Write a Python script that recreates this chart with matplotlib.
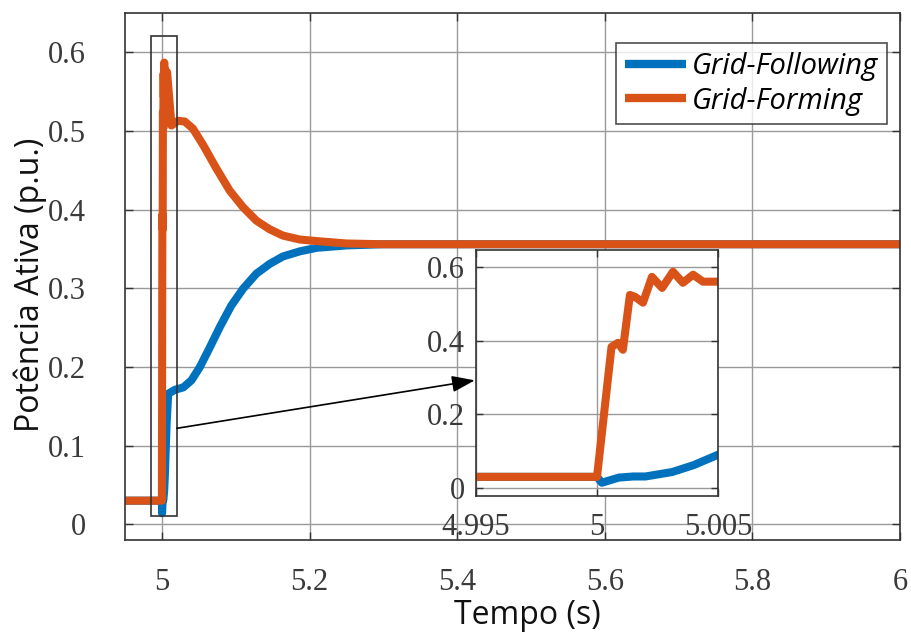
import matplotlib
matplotlib.use("Agg")
import matplotlib.pyplot as plt
from matplotlib.patches import Rectangle

# ---- data ----
t_forming = [4.95, 4.995, 5.0, 5.0006, 5.00087, 5.00107, 5.00136, 5.00157, 5.0019,
             5.00227, 5.00269, 5.00314, 5.00355, 5.00397, 5.00438, 5.005, 5.007,
             5.013, 5.022, 5.031, 5.042, 5.056, 5.074, 5.092, 5.110, 5.128, 5.146,
             5.164, 5.187, 5.210, 5.250, 5.3, 6.0]
p_forming = [0.03, 0.03, 0.03, 0.383, 0.394, 0.375, 0.524, 0.519, 0.503,
             0.573, 0.543, 0.587, 0.557, 0.579, 0.56, 0.56, 0.575,
             0.507, 0.513, 0.512, 0.503, 0.482, 0.452, 0.424, 0.403, 0.386, 0.375,
             0.367, 0.362, 0.360, 0.357, 0.356, 0.356]

t_following = [4.95, 4.995, 5.0, 5.0002, 5.0009, 5.0015, 5.002, 5.0031, 5.004, 5.005,
               5.0065, 5.0086, 5.0176, 5.029, 5.040, 5.0515, 5.065, 5.0786, 5.094,
               5.110, 5.128, 5.146, 5.164, 5.187, 5.210, 5.250, 5.3, 6.0]
p_following = [0.03, 0.03, 0.03, 0.014, 0.028, 0.031, 0.031, 0.043, 0.062, 0.09,
               0.13, 0.166, 0.171, 0.174, 0.183, 0.200, 0.225, 0.251, 0.278,
               0.2995, 0.3186, 0.331, 0.3405, 0.347, 0.3515, 0.3545, 0.356, 0.356]

labels = ["Grid-Following", "Grid-Forming"]
main_xticks = [5, 5.2, 5.4, 5.6, 5.8, 6]
main_xticklabels = ["5", "5.2", "5.4", "5.6", "5.8", "6"]
main_yticks = [0, 0.1, 0.2, 0.3, 0.4, 0.5, 0.6]
main_yticklabels = ["0", "0.1", "0.2", "0.3", "0.4", "0.5", "0.6"]
inset_xticks = [4.995, 5.0, 5.005]
inset_xticklabels = ["4.995", "5", "5.005"]
inset_yticks = [0, 0.2, 0.4, 0.6]
inset_yticklabels = ["0", "0.2", "0.4", "0.6"]

BLUE = "#0072BD"
ORANGE = "#D95319"
GRID = "#9a9a9a"
TICKC = "#3a3a3a"
serif = ["Liberation Serif", "DejaVu Serif"]
LW = 5.8

fig = plt.figure(figsize=(9.12, 6.37), dpi=100)
ax = fig.add_axes([125/912, 1-540/637, 775/912, 527/637])

ax.plot(t_following, p_following, color=BLUE, lw=LW, label=labels[0],
        solid_joinstyle="round", solid_capstyle="butt")
ax.plot(t_forming, p_forming, color=ORANGE, lw=LW, label=labels[1],
        solid_joinstyle="round", solid_capstyle="butt")
ax.set_xlim(4.95, 6.0)
ax.set_ylim(-0.02, 0.65)
ax.set_xticks(main_xticks)
ax.set_xticklabels(main_xticklabels, fontfamily=serif, fontsize=22, color=TICKC)
ax.set_yticks(main_yticks)
ax.set_yticklabels(main_yticklabels, fontfamily=serif, fontsize=22, color=TICKC)
ax.tick_params(axis="x", direction="in", length=6, width=1, top=True, pad=20, colors="#333333", labelcolor=TICKC)
ax.tick_params(axis="y", direction="in", length=6, width=1, right=True, pad=28, colors="#333333", labelcolor=TICKC)
ax.grid(True, color=GRID, lw=1)
ax.set_axisbelow(True)
for s in ax.spines.values():
    s.set_color("#333333")
    s.set_linewidth(1.2)

leg = ax.legend(loc="upper right", bbox_to_anchor=(887/912, 1-43/637), bbox_transform=fig.transFigure,
                prop={"family": "Open Sans", "style": "italic", "size": 21},
                frameon=True, fancybox=False, edgecolor="#222222", handlelength=2.1,
                handletextpad=0.2, borderpad=0.3, labelspacing=0.2, borderaxespad=0)
leg.get_frame().set_linewidth(1.2)
for h in leg.get_lines():
    h.set_linewidth(6)

# zoom rectangle
ax.add_patch(Rectangle((4.9851, 0.011), 5.0203-4.9851, 0.621-0.011, fill=False,
                       edgecolor="#333333", lw=1.2, zorder=5))
ax.annotate("", xy=(5.424, 0.183), xytext=(5.0203, 0.122),
            arrowprops=dict(arrowstyle="-|>,head_length=1.4,head_width=0.5", color="black", lw=1.2,
                            shrinkA=0, shrinkB=0), zorder=6)

fig.text(30/912, 1-285/637, "Potência Ativa (p.u.)", rotation=90, ha="center", va="center",
         fontfamily="Open Sans", fontsize=23, color="#111111")
fig.text(527/912, 1-615/637, "Tempo (s)", ha="center", va="center",
         fontfamily="Open Sans", fontsize=23, color="#111111")

# inset
axi = fig.add_axes([476/912, 1-496/637, 242/912, 246/637])
axi.plot(t_following, p_following, color=BLUE, lw=LW, solid_joinstyle="round")
axi.plot(t_forming, p_forming, color=ORANGE, lw=LW, solid_joinstyle="round")
axi.set_xlim(4.995, 5.005)
axi.set_ylim(-0.022, 0.646)
axi.set_xticks(inset_xticks)
axi.set_xticklabels(inset_xticklabels, fontfamily=serif, fontsize=22, color=TICKC)
axi.set_yticks(inset_yticks)
axi.set_yticklabels(inset_yticklabels, fontfamily=serif, fontsize=22, color=TICKC)
axi.tick_params(axis="x", direction="in", length=5, width=1, top=True, pad=12, colors="#333333", labelcolor=TICKC)
axi.tick_params(axis="y", direction="in", length=5, width=1, right=True, pad=8, colors="#333333", labelcolor=TICKC)
axi.grid(True, color=GRID, lw=1)
axi.set_axisbelow(True)
for s in axi.spines.values():
    s.set_color("#333333")
    s.set_linewidth(1.2)

fig.savefig("out.png", dpi=100)
